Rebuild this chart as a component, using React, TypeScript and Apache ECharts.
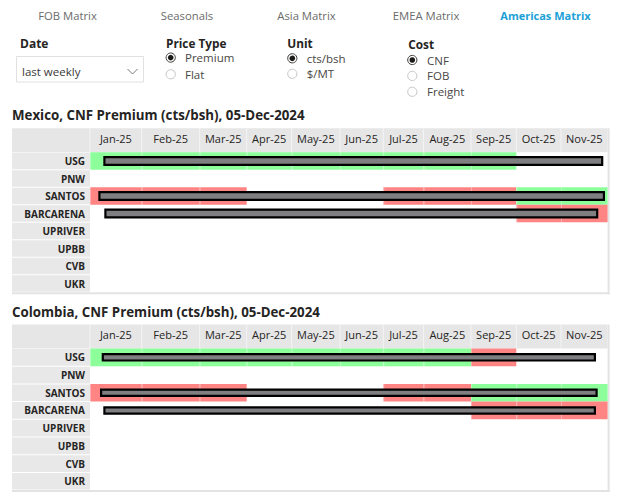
import React, { useEffect, useRef } from "react";
import * as echarts from "echarts";

// ---------- content ----------
const NAV_TABS = ["FOB Matrix", "Seasonals", "Asia Matrix", "EMEA Matrix", "Americas Matrix"];
const ACTIVE_TAB = "Americas Matrix";
const DATE_LABEL = "Date";
const DATE_VALUE = "last weekly";
const PRICE_LABEL = "Price Type";
const PRICE_TYPES = ["Premium", "Flat"];
const UNIT_LABEL = "Unit";
const UNITS = ["cts/bsh", "$/MT"];
const COST_LABEL = "Cost";
const COSTS = ["CNF", "FOB", "Freight"];
const SELECTED_PRICE = "Premium";
const SELECTED_UNIT = "cts/bsh";
const SELECTED_COST = "CNF";

const MONTHS = ["Jan-25", "Feb-25", "Mar-25", "Apr-25", "May-25", "Jun-25", "Jul-25", "Aug-25", "Sep-25", "Oct-25", "Nov-25"];
const PORTS = ["USG", "PNW", "SANTOS", "BARCARENA", "UPRIVER", "UPBB", "CVB", "UKR"];

const MEXICO_TITLE = "Mexico, CNF Premium (cts/bsh), 05-Dec-2024";
const COLOMBIA_TITLE = "Colombia, CNF Premium (cts/bsh), 05-Dec-2024";

// cell signal per month: 1 = green, -1 = red, 0 = none
const MEXICO_USG = [1, 1, 1, 1, 1, 1, 1, 1, 1, 0, 0];
const MEXICO_SANTOS = [-1, -1, -1, 0, 0, 0, -1, -1, -1, 1, 1];
const MEXICO_BARCARENA = [0, 0, 0, 0, 0, 0, 0, 0, 0, -1, -1];
const COLOMBIA_USG = [1, 1, 1, 1, 1, 1, 1, 1, -1, 0, 0];
const COLOMBIA_SANTOS = [-1, -1, -1, 0, 0, 0, -1, -1, 1, 1, 1];
const COLOMBIA_BARCARENA = [0, 0, 0, 0, 0, 0, 0, 0, -1, -1, -1];

// data bars (in table-width units)
const BAR_PORTS = ["USG", "SANTOS", "BARCARENA"];
const MEXICO_BAR_FROM = [13.3, 8.3, 14.3];
const MEXICO_BAR_TO = [513.3, 515, 508.3];
const COLOMBIA_BAR_FROM = [11.7, 10, 13.3];
const COLOMBIA_BAR_TO = [506, 507.7, 506];

// ---------- layout / style ----------
const FONT = "'Segoe UI', 'Open Sans', 'Noto Sans', sans-serif";
const COL_WIDTHS = [51.7, 58, 47, 45, 48.3, 43.3, 40.3, 47.4, 45.3, 44.7, 46.6];
const EDGES = COL_WIDTHS.reduce((a: number[], w) => { a.push(a[a.length - 1] + w); return a; }, [0]);
const TOTAL = EDGES[EDGES.length - 1];
const CENTERS = COL_WIDTHS.map((w, i) => EDGES[i] + w / 2);
const LABEL_W = 78;
const HEADER_H = 24;
const GREEN = "#8CFF9B";
const RED = "#FF8585";
const GRAY_BG = "#E6E6E6";
const TEXT = "#252423";

const TABLES = [
  {
    title: MEXICO_TITLE, titleY: 115.3, top: 152.3, height: 140, barH: 10,
    signals: { USG: MEXICO_USG, SANTOS: MEXICO_SANTOS, BARCARENA: MEXICO_BARCARENA } as Record<string, number[]>,
    from: MEXICO_BAR_FROM, to: MEXICO_BAR_TO,
  },
  {
    title: COLOMBIA_TITLE, titleY: 312.2, top: 348.5, height: 141.6, barH: 8.5,
    signals: { USG: COLOMBIA_USG, SANTOS: COLOMBIA_SANTOS, BARCARENA: COLOMBIA_BARCARENA } as Record<string, number[]>,
    from: COLOMBIA_BAR_FROM, to: COLOMBIA_BAR_TO,
  },
];

function nearestMonth(v: number) {
  let best = 0;
  CENTERS.forEach((c, i) => { if (Math.abs(c - v) < Math.abs(CENTERS[best] - v)) best = i; });
  return MONTHS[best];
}

function radio(cx: number, cy: number, selected: boolean) {
  const children: any[] = [
    { type: "circle", shape: { cx, cy, r: 4.6 }, style: { fill: "#fff", stroke: selected ? "#3b3a39" : "#C8C6C4", lineWidth: 1 } },
  ];
  if (selected) children.push({ type: "circle", shape: { cx, cy, r: 2.8 }, style: { fill: "#1b1a19" } });
  return { type: "group", children };
}

function txt(x: number, y: number, text: string, size: number, opts: any = {}) {
  return {
    type: "text", x, y,
    style: { text, fontSize: size, fontFamily: FONT, fill: opts.fill || TEXT, fontWeight: opts.bold ? "bold" : "normal", textAlign: opts.align || "left", textVerticalAlign: "middle" },
  };
}

function buildOption() {
  const graphic: any[] = [];
  NAV_TABS.forEach((t, i) => {
    const active = t === ACTIVE_TAB;
    graphic.push(txt(67.5 + 119.5 * i, 15, t, active ? 11 : 11.3, { align: "center", bold: active, fill: active ? "#1BA1D8" : "#6B6B6B" }));
  });
  graphic.push(txt(20, 43.3, DATE_LABEL, 12, { bold: true }));
  graphic.push({ type: "rect", shape: { x: 16.5, y: 56.5, width: 127, height: 25.5 }, style: { fill: "#fff", stroke: "#E1E1E1", lineWidth: 1 } });
  graphic.push(txt(22, 71.5, DATE_VALUE, 11.5, { fill: "#3b3a39" }));
  graphic.push({ type: "polyline", shape: { points: [[127.5, 69], [132.5, 74], [137.5, 69]] }, style: { stroke: "#777", lineWidth: 1, fill: "none" } });

  graphic.push(txt(166, 42.5, PRICE_LABEL, 11.8, { bold: true }));
  PRICE_TYPES.forEach((p, i) => {
    const y = 57.6 + i * 16.7;
    graphic.push(radio(170.7, y, p === SELECTED_PRICE));
    graphic.push(txt(185, y, p, 11.5, { fill: "#484644" }));
  });
  graphic.push(txt(287.3, 42.5, UNIT_LABEL, 11.8, { bold: true }));
  UNITS.forEach((u, i) => {
    const y = 58.3 + i * 15.5;
    graphic.push(radio(292.3, y, u === SELECTED_UNIT));
    graphic.push(txt(306.7, y, u, 11.5, { fill: "#484644" }));
  });
  graphic.push(txt(408.3, 43.8, COST_LABEL, 11.8, { bold: true }));
  COSTS.forEach((c, i) => {
    const y = 60 + i * 15.9;
    graphic.push(radio(412.3, y, c === SELECTED_COST));
    graphic.push(txt(427, y, c, 11.5, { fill: "#484644" }));
  });

  const grid: any[] = [];
  const xAxis: any[] = [];
  const yAxis: any[] = [];
  const series: any[] = [];

  TABLES.forEach((t, k) => {
    graphic.push(txt(12, t.titleY, t.title, 13.3, { bold: true }));
    grid.push({ left: 90, top: t.top, width: TOTAL, height: t.height, containLabel: false });
    xAxis.push({
      gridIndex: k, type: "value", min: 0, max: TOTAL, position: "top", z: 10,
      axisLine: { show: false }, axisTick: { show: false }, splitLine: { show: false },
      axisLabel: {
        customValues: CENTERS, formatter: (v: number) => nearestMonth(v), margin: 14, verticalAlign: "middle",
        color: TEXT, fontSize: 11, fontFamily: FONT, showMinLabel: true, showMaxLabel: true,
      },
    });
    yAxis.push({
      gridIndex: k, type: "category", data: PORTS, inverse: true, z: 10,
      axisLine: { show: false }, axisTick: { show: false }, splitLine: { show: false },
      axisLabel: { fontWeight: "bold", fontSize: 10, color: TEXT, margin: 5, fontFamily: FONT },
    });

    // frame: header, label column, borders
    series.push({
      type: "custom", xAxisIndex: k, yAxisIndex: k, z: 1, clip: false, silent: true,
      data: [[0, 0]],
      renderItem: (params: any, api: any) => {
        const rowH = api.size([0, 1])[1];
        const c0 = api.coord([0, 0]);
        const x0 = c0[0];
        const top = c0[1] - rowH / 2;
        const x1 = api.coord([TOTAL, 0])[0];
        const bottom = top + rowH * PORTS.length;
        const left = x0 - LABEL_W;
        const ch: any[] = [
          { type: "rect", shape: { x: left, y: top - HEADER_H, width: x1 - left, height: HEADER_H }, style: { fill: GRAY_BG } },
        ];
        EDGES.slice(0, -1).forEach((e) => {
          const x = api.coord([e, 0])[0];
          ch.push({ type: "line", shape: { x1: x, y1: top - HEADER_H, x2: x, y2: top }, style: { stroke: "#F4F4F4", lineWidth: 1 } });
        });
        PORTS.forEach((_, r) => {
          ch.push({ type: "rect", shape: { x: left, y: top + r * rowH + 0.5, width: LABEL_W, height: rowH - 1 }, style: { fill: "#E8E8E8" } });
        });
        ch.push({ type: "rect", shape: { x: x1, y: top - HEADER_H, width: 2, height: bottom - top + HEADER_H + 2 }, style: { fill: "#E3E3E3" } });
        ch.push({ type: "rect", shape: { x: left, y: bottom, width: x1 - left + 2, height: 2 }, style: { fill: "#E3E3E3" } });
        return { type: "group", children: ch };
      },
    });

    // colored cells
    const cellData: any[] = [];
    PORTS.forEach((p, pi) => {
      const arr = t.signals[p];
      if (!arr) return;
      arr.forEach((s, m) => { if (s !== 0) cellData.push([EDGES[m], pi, EDGES[m + 1], s]); });
    });
    series.push({
      type: "custom", xAxisIndex: k, yAxisIndex: k, z: 2, clip: false, silent: true,
      data: cellData,
      renderItem: (params: any, api: any) => {
        const a = api.coord([api.value(0), api.value(1)]);
        const b = api.coord([api.value(2), api.value(1)]);
        const h = api.size([0, 1])[1];
        return {
          type: "group", children: [
            { type: "rect", shape: { x: a[0], y: a[1] - h / 2, width: b[0] - a[0], height: h }, style: { fill: api.value(3) > 0 ? GREEN : RED } },
            { type: "line", shape: { x1: a[0] + 0.5, y1: a[1] - h / 2, x2: a[0] + 0.5, y2: a[1] + h / 2 }, style: { stroke: "rgba(255,255,255,0.35)", lineWidth: 1 } },
          ],
        };
      },
    });

    // data bars
    const barData = BAR_PORTS.map((p, i) => [t.from[i], PORTS.indexOf(p), t.to[i]]);
    const barH = t.barH;
    series.push({
      type: "custom", xAxisIndex: k, yAxisIndex: k, z: 3, clip: false, silent: true,
      data: barData,
      renderItem: (params: any, api: any) => {
        const a = api.coord([api.value(0), api.value(1)]);
        const b = api.coord([api.value(2), api.value(1)]);
        const lw = 2.2;
        return {
          type: "rect",
          shape: { x: a[0] + lw / 2, y: a[1] - barH / 2 + lw / 2, width: b[0] - a[0] - lw, height: barH - lw },
          style: { fill: "#7F7F82", stroke: "#000", lineWidth: lw },
        };
      },
    });
  });

  return { animation: false, backgroundColor: "#fff", textStyle: { fontFamily: FONT }, graphic, grid, xAxis, yAxis, series };
}

export default function App() {
  const ref = useRef<HTMLDivElement>(null);
  useEffect(() => {
    document.body.style.margin = "0";
    if (!ref.current) return;
    const chart = echarts.init(ref.current, undefined, { renderer: "svg" });
    chart.setOption(buildOption() as any);
    return () => chart.dispose();
  }, []);
  return <div ref={ref} style={{ width: 641, height: 503 }} />;
}
